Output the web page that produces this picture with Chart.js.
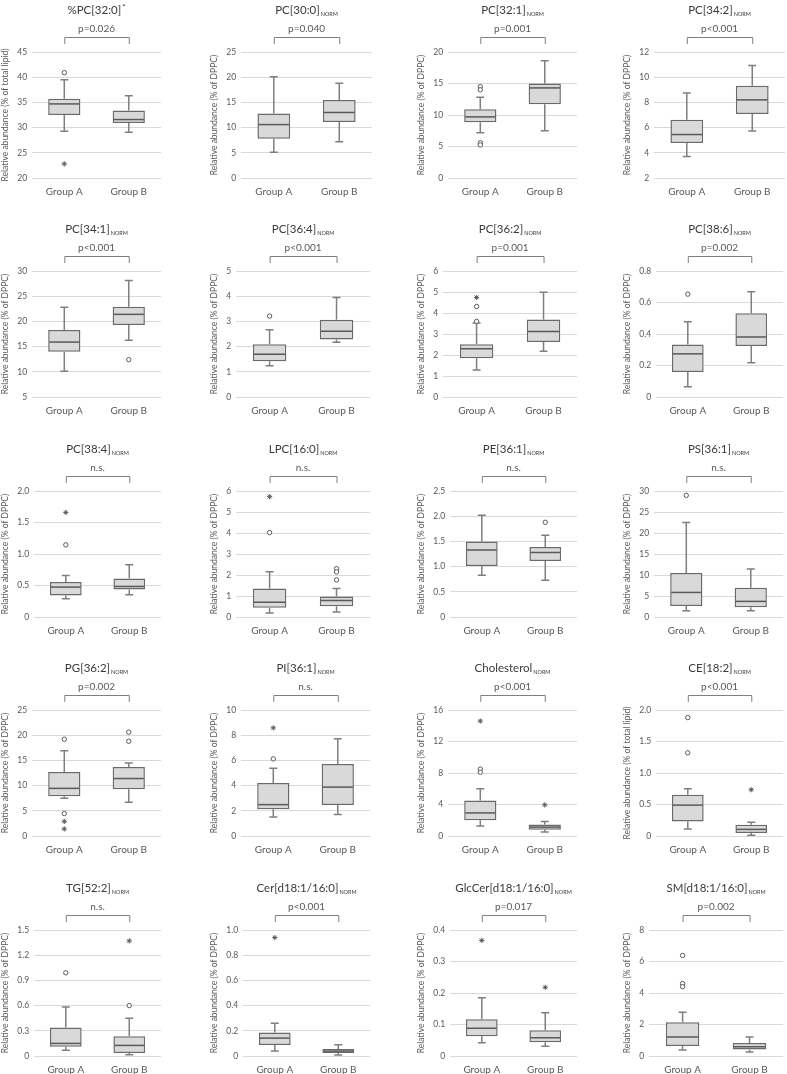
<!DOCTYPE html>
<html lang="en">
<head>
<meta charset="UTF-8">
<title>Lipid box plots</title>
<script src="https://cdn.jsdelivr.net/npm/chart.js"></script>
<style>
  body { margin: 0; background: #fff; }
  #wrap { position: relative; width: 787px; height: 1074px; overflow: hidden; background: #fff; }
  #wrap canvas { position: absolute; }
</style>
</head>
<body>
<div id="wrap"></div>
<script>
const groups = ['Group A', 'Group B'];

const lipidNames = ['%PC[32:0]', 'PC[30:0]', 'PC[32:1]', 'PC[34:2]',
  'PC[34:1]', 'PC[36:4]', 'PC[36:2]', 'PC[38:6]',
  'PC[38:4]', 'LPC[16:0]', 'PE[36:1]', 'PS[36:1]',
  'PG[36:2]', 'PI[36:1]', 'Cholesterol', 'CE[18:2]',
  'TG[52:2]', 'Cer[d18:1/16:0]', 'GlcCer[d18:1/16:0]', 'SM[d18:1/16:0]'];
const nameSup = ['*', '', '', '', '', '', '', '', '', '', '', '', '', '', '', '', '', '', '', ''];
const nameSub = ['', 'NORM', 'NORM', 'NORM', 'NORM', 'NORM', 'NORM', 'NORM', 'NORM', 'NORM',
  'NORM', 'NORM', 'NORM', 'NORM', 'NORM', 'NORM', 'NORM', 'NORM', 'NORM', 'NORM'];

const pLabels = ['p=0.026', 'p=0.040', 'p=0.001', 'p<0.001',
  'p<0.001', 'p<0.001', 'p=0.001', 'p=0.002',
  'n.s.', 'n.s.', 'n.s.', 'n.s.',
  'p=0.002', 'n.s.', 'p<0.001', 'p<0.001',
  'n.s.', 'p<0.001', 'p=0.017', 'p=0.002'];

const axisTitles = ['Relative abundance (% of total lipid)', 'Relative abundance (% of DPPC)',
  'Relative abundance (% of DPPC)', 'Relative abundance (% of DPPC)',
  'Relative abundance (% of DPPC)', 'Relative abundance (% of DPPC)',
  'Relative abundance (% of DPPC)', 'Relative abundance (% of DPPC)',
  'Relative abundance (% of DPPC)', 'Relative abundance (% of DPPC)',
  'Relative abundance (% of DPPC)', 'Relative abundance (% of DPPC)',
  'Relative abundance (% of DPPC)', 'Relative abundance (% of DPPC)',
  'Relative abundance (% of DPPC)', 'Relative abundance (% of total lipid)',
  'Relative abundance (% of DPPC)', 'Relative abundance (% of DPPC)',
  'Relative abundance (% of DPPC)', 'Relative abundance (% of DPPC)'];

const yMin = [20, 0, 0, 2, 5, 0, 0, 0, 0, 0, 0, 0, 0, 0, 0, 0, 0, 0, 0, 0];
const yMax = [45, 25, 20, 12, 30, 5, 6, 0.8, 2, 6, 2.5, 30, 25, 10, 16, 2, 1.5, 1, 0.4, 8];
const yStep = [5, 5, 5, 2, 5, 1, 1, 0.2, 0.5, 1, 0.5, 5, 5, 2, 4, 0.5, 0.3, 0.2, 0.1, 2];
const tickDecimals = [0, 0, 0, 0, 0, 0, 0, 1, 1, 0, 1, 0, 0, 0, 0, 1, 1, 1, 1, 0];

// Group A box statistics
const lowA = [29.3, 5.1, 7.2, 3.7, 10.1, 1.24, 1.28, 0.065, 0.29, 0.19, 0.83, 1.5, 7.5, 1.5, 1.26, 0.11, 0.067, 0.039, 0.042, 0.38];
const q1A = [32.5, 7.8, 8.85, 4.77, 14.0, 1.42, 1.85, 0.158, 0.343, 0.44, 1.01, 2.6, 7.9, 2.13, 2.0, 0.23, 0.11, 0.087, 0.063, 0.63];
const medA = [34.7, 10.6, 9.7, 5.45, 15.9, 1.70, 2.30, 0.274, 0.475, 0.70, 1.33, 5.85, 9.45, 2.49, 2.93, 0.49, 0.15, 0.142, 0.088, 1.2];
const q3A = [35.7, 12.8, 10.9, 6.63, 18.3, 2.09, 2.51, 0.333, 0.554, 1.36, 1.50, 10.5, 12.7, 4.2, 4.5, 0.656, 0.339, 0.186, 0.117, 2.14];
const highA = [39.5, 20.1, 12.8, 8.75, 22.8, 2.67, 3.52, 0.478, 0.66, 2.16, 2.02, 22.5, 16.9, 5.38, 6.0, 0.75, 0.583, 0.26, 0.185, 2.77];

// Group B box statistics
const lowB = [29.1, 7.2, 7.5, 5.74, 16.25, 2.17, 2.18, 0.217, 0.354, 0.24, 0.73, 1.5, 6.7, 1.7, 0.5, 0.01, 0.016, 0.008, 0.031, 0.25];
const q1B = [30.9, 11.1, 11.7, 7.08, 19.3, 2.28, 2.62, 0.324, 0.438, 0.51, 1.11, 2.3, 9.3, 2.47, 0.8, 0.047, 0.035, 0.024, 0.044, 0.42];
const medB = [31.6, 13.0, 14.3, 8.2, 21.4, 2.61, 3.12, 0.381, 0.485, 0.79, 1.28, 3.72, 11.4, 3.88, 1.13, 0.105, 0.126, 0.039, 0.058, 0.59];
const q3B = [33.4, 15.5, 15.0, 9.33, 22.9, 3.07, 3.69, 0.531, 0.61, 0.98, 1.39, 6.96, 13.7, 5.72, 1.47, 0.178, 0.236, 0.055, 0.082, 0.82];
const highB = [36.3, 18.8, 18.6, 10.93, 28.1, 3.95, 4.99, 0.669, 0.83, 1.36, 1.62, 11.4, 14.5, 7.72, 1.85, 0.22, 0.449, 0.089, 0.137, 1.2];

// outliers: o = circles, * = extremes
const circlesA = [[40.9], [], [14.5, 14.0, 5.6, 5.25], [], [], [3.21], [4.31, 3.6], [0.653], [1.145], [4.02],
  [], [28.97], [19.2, 4.46], [6.12], [8.5, 8.1], [1.88, 1.32], [0.99], [], [], [6.38, 4.6, 4.4]];
const starsA = [[22.8], [], [], [], [], [], [4.74], [], [1.66], [5.73],
  [], [], [2.9, 1.4], [8.58], [14.6], [], [], [0.94], [0.367], []];
const circlesB = [[], [], [], [], [12.4], [], [], [], [], [2.3, 2.15, 1.77],
  [1.88], [], [20.6, 18.8], [], [], [], [0.6], [], [], []];
const starsB = [[], [], [], [], [], [], [], [], [], [],
  [], [], [], [], [3.95], [0.735], [1.37], [], [0.218], []];

const colLeft = [0, 209, 416, 622];
const rowTop = [0, 219, 439, 658, 878];
const FONT = 'Lato, "Open Sans", sans-serif';
const TEXT = '#595959';

function toPoints(a, b) {
  return a.map(v => ({ x: groups[0], y: v })).concat(b.map(v => ({ x: groups[1], y: v })));
}

const boxExtras = {
  id: 'boxExtras',
  beforeDatasetsDraw(chart, args, opts) {
    const i = opts.index;
    const ctx = chart.ctx, x = chart.scales.x, y = chart.scales.y;
    const lows = [lowA[i], lowB[i]], highs = [highA[i], highB[i]];
    const q1s = [q1A[i], q1B[i]], q3s = [q3A[i], q3B[i]];
    ctx.save();
    ctx.strokeStyle = '#7f7f7f';
    ctx.lineWidth = 1.5;
    for (let j = 0; j < 2; j++) {
      const cx = x.getPixelForValue(j);
      ctx.beginPath();
      ctx.moveTo(cx, y.getPixelForValue(q3s[j]));
      ctx.lineTo(cx, y.getPixelForValue(highs[j]));
      ctx.moveTo(cx - 4, y.getPixelForValue(highs[j]));
      ctx.lineTo(cx + 4, y.getPixelForValue(highs[j]));
      ctx.moveTo(cx, y.getPixelForValue(q1s[j]));
      ctx.lineTo(cx, y.getPixelForValue(lows[j]));
      ctx.moveTo(cx - 4, y.getPixelForValue(lows[j]));
      ctx.lineTo(cx + 4, y.getPixelForValue(lows[j]));
      ctx.stroke();
    }
    ctx.restore();
  },
  afterDatasetsDraw(chart, args, opts) {
    const i = opts.index;
    const ctx = chart.ctx, y = chart.scales.y;
    const meds = [medA[i], medB[i]];
    const bars = chart.getDatasetMeta(0).data;
    ctx.save();
    ctx.strokeStyle = '#595959';
    ctx.lineWidth = 1.5;
    bars.forEach((bar, j) => {
      const py = y.getPixelForValue(meds[j]);
      ctx.beginPath();
      ctx.moveTo(bar.x - bar.width / 2 + 1, py);
      ctx.lineTo(bar.x + bar.width / 2 - 1, py);
      ctx.stroke();
    });
    ctx.restore();
  },
  afterDraw(chart, args, opts) {
    const i = opts.index;
    const ctx = chart.ctx, x = chart.scales.x, area = chart.chartArea;
    const xa = x.getPixelForValue(0), xb = x.getPixelForValue(1);
    ctx.save();
    // bracket
    ctx.strokeStyle = '#7f7f7f';
    ctx.lineWidth = 1;
    ctx.beginPath();
    ctx.moveTo(xa + 0.5, area.top - 8);
    ctx.lineTo(xa + 0.5, area.top - 14.5);
    ctx.lineTo(xb + 0.5, area.top - 14.5);
    ctx.lineTo(xb + 0.5, area.top - 8);
    ctx.stroke();
    // p value
    ctx.fillStyle = TEXT;
    ctx.textAlign = 'center';
    ctx.textBaseline = 'middle';
    ctx.font = '10px ' + FONT;
    ctx.fillText(pLabels[i], (xa + xb) / 2, area.top - 23);
    // title with sub/superscript
    const mainFont = '11.5px ' + FONT, smallFont = '5.5px ' + FONT, supFont = '8px ' + FONT;
    ctx.font = mainFont;
    const wMain = ctx.measureText(lipidNames[i]).width;
    ctx.font = smallFont;
    const wSub = nameSub[i] ? ctx.measureText(nameSub[i]).width + 1 : 0;
    ctx.font = supFont;
    const wSup = nameSup[i] ? ctx.measureText(nameSup[i]).width + 1 : 0;
    const cx = (area.left + area.right) / 2;
    let sx = cx - (wMain + wSub + wSup) / 2;
    const ty = area.top - 38;
    ctx.textAlign = 'left';
    ctx.textBaseline = 'alphabetic';
    ctx.fillStyle = '#3a3a3a';
    ctx.font = mainFont;
    ctx.fillText(lipidNames[i], sx, ty);
    sx += wMain + 1;
    if (nameSub[i]) {
      ctx.font = smallFont;
      ctx.fillText(nameSub[i], sx, ty + 2);
    }
    if (nameSup[i]) {
      ctx.font = supFont;
      ctx.fillText(nameSup[i], sx, ty - 4);
    }
    ctx.restore();
  }
};

const wrap = document.getElementById('wrap');

for (let i = 0; i < lipidNames.length; i++) {
  const canvas = document.createElement('canvas');
  canvas.width = 166;
  canvas.height = 200;
  canvas.style.left = colLeft[i % 4] + 'px';
  canvas.style.top = rowTop[Math.floor(i / 4)] + 'px';
  wrap.appendChild(canvas);

  const dec = tickDecimals[i];
  new Chart(canvas.getContext('2d'), {
    type: 'bar',
    data: {
      labels: groups,
      datasets: [
        {
          type: 'bar',
          data: [[q1A[i], q3A[i]], [q1B[i], q3B[i]]],
          backgroundColor: '#d9d9d9',
          borderColor: '#6a6a6a',
          borderWidth: 1.5,
          borderSkipped: false,
          barPercentage: 0.5,
          categoryPercentage: 1,
          order: 2
        },
        {
          type: 'scatter',
          data: toPoints(circlesA[i], circlesB[i]),
          pointStyle: 'circle',
          pointRadius: 2.2,
          borderColor: '#595959',
          backgroundColor: '#ffffff',
          borderWidth: 1,
          order: 1
        },
        {
          type: 'scatter',
          data: toPoints(starsA[i], starsB[i]),
          pointStyle: 'star',
          pointRadius: 2.6,
          borderColor: '#595959',
          borderWidth: 1,
          order: 1
        }
      ]
    },
    options: {
      responsive: false,
      animation: false,
      layout: { padding: { top: 52, right: 3, bottom: 2, left: 0 } },
      plugins: {
        legend: { display: false },
        tooltip: { enabled: false },
        boxExtras: { index: i }
      },
      scales: {
        x: {
          grid: { display: false },
          border: { display: false },
          ticks: { color: TEXT, font: { family: FONT, size: 10 }, padding: 0 }
        },
        y: {
          min: yMin[i],
          max: yMax[i],
          grid: { color: '#d9d9d9', drawTicks: false },
          border: { display: false },
          ticks: {
            stepSize: yStep[i],
            color: TEXT,
            padding: 5,
            font: { family: FONT, size: 8.5 },
            callback: v => (Math.abs(v) < 1e-9 ? '0' : v.toFixed(dec))
          },
          title: {
            display: true,
            text: axisTitles[i],
            color: TEXT,
            font: { family: FONT, size: 8.5 },
            padding: { top: 0, bottom: 2 }
          }
        }
      }
    },
    plugins: [boxExtras]
  });
}
</script>
</body>
</html>
